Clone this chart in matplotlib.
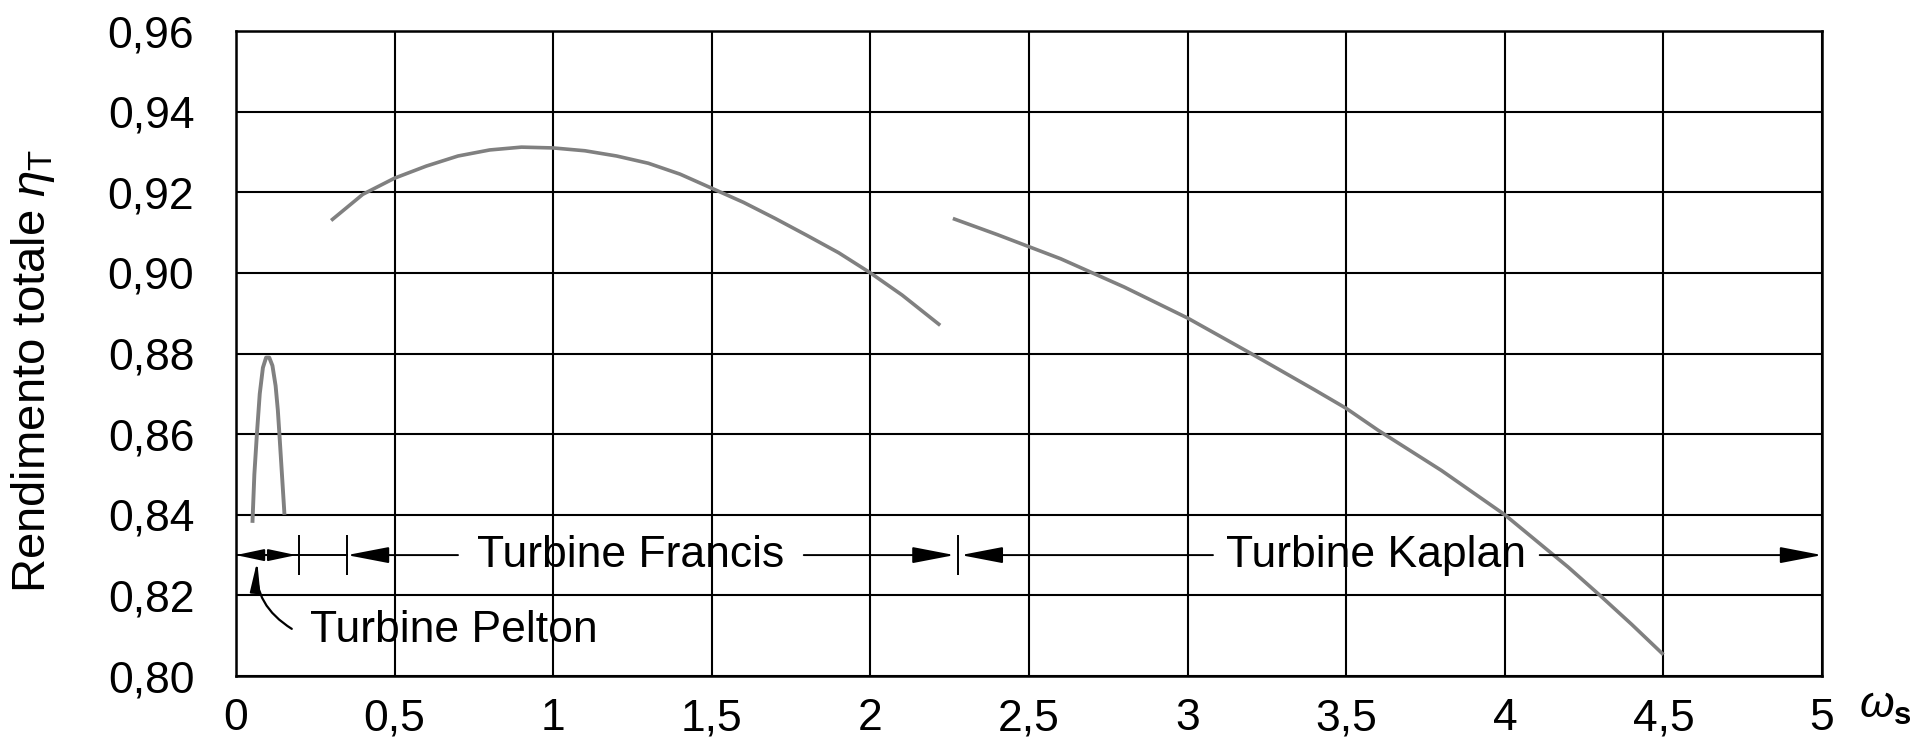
import matplotlib
matplotlib.use('Agg')
import matplotlib.pyplot as plt
from matplotlib.ticker import FuncFormatter

# ***************************** data *****************************
# efficiency curves
pelton_x = [0.052, 0.058, 0.066, 0.075, 0.085, 0.095, 0.105, 0.115, 0.125, 0.132, 0.137, 0.145, 0.153]
pelton_y = [0.838, 0.850, 0.860, 0.870, 0.8765, 0.879, 0.879, 0.877, 0.872, 0.866, 0.860, 0.850, 0.840]

francis_x = [0.3, 0.4, 0.5, 0.6, 0.7, 0.8, 0.9, 1.0, 1.1, 1.2, 1.3, 1.4, 1.5, 1.6, 1.7, 1.8, 1.9, 2.0, 2.1, 2.22]
francis_y = [0.913, 0.9195, 0.9235, 0.9265, 0.929, 0.9305, 0.9312, 0.931, 0.9303, 0.929, 0.9272, 0.9245,
             0.921, 0.9175, 0.9135, 0.9093, 0.905, 0.900, 0.8945, 0.887]

kaplan_x = [2.26, 2.4, 2.5, 2.6, 2.8, 3.0, 3.2, 3.4, 3.5, 3.6, 3.8, 4.0, 4.2, 4.3, 4.4, 4.5]
kaplan_y = [0.9135, 0.9095, 0.9065, 0.9035, 0.8965, 0.8888, 0.8800, 0.8710, 0.8664, 0.8610, 0.8510,
            0.8400, 0.8270, 0.8200, 0.8128, 0.8053]

x_ticks = [0, 0.5, 1, 1.5, 2, 2.5, 3, 3.5, 4, 4.5, 5]
y_ticks = [0.80, 0.82, 0.84, 0.86, 0.88, 0.90, 0.92, 0.94, 0.96]

# range markers (x positions) for the turbine types
range_y = 0.83
pelton_range = [0.0, 0.2]
francis_range = [0.35, 2.275]
kaplan_range = [2.275, 5.0]
labels = ['Turbine Pelton', 'Turbine Francis', 'Turbine Kaplan']

# ***************************** style *****************************
plt.rcParams['font.family'] = ['Liberation Sans', 'DejaVu Sans']
plt.rcParams['mathtext.fontset'] = 'custom'
plt.rcParams['mathtext.rm'] = 'Liberation Sans'
plt.rcParams['mathtext.it'] = 'Liberation Sans:italic'
plt.rcParams['mathtext.bf'] = 'Liberation Sans:bold'

FS = 32
curve_col = '#808080'

fig = plt.figure(figsize=(19.23, 7.46), dpi=100)
ax = fig.add_axes([0.1227, 0.0938, 0.8248, 0.8646])

ax.plot(pelton_x, pelton_y, color=curve_col, lw=2.8, solid_capstyle='butt')
ax.plot(francis_x, francis_y, color=curve_col, lw=2.6, solid_capstyle='butt')
ax.plot(kaplan_x, kaplan_y, color=curve_col, lw=2.6, solid_capstyle='butt')

ax.set_xlim(0, 5)
ax.set_ylim(0.80, 0.96)
ax.set_xticks(x_ticks)
ax.set_yticks(y_ticks)
ax.xaxis.set_major_formatter(FuncFormatter(lambda v, p: ('%g' % v).replace('.', ',')))
ax.yaxis.set_major_formatter(FuncFormatter(lambda v, p: ('%.2f' % v).replace('.', ',')))
ax.tick_params(axis='both', length=0, labelsize=FS)
ax.tick_params(axis='x', pad=16)
ax.tick_params(axis='y', pad=30)
ax.grid(True, color='black', lw=1.5)
ax.set_axisbelow(True)
for sp in ax.spines.values():
    sp.set_linewidth(1.8)

# axis titles
fig.text(0.0172, 0.5027, r'Rendimento totale $\eta_\mathrm{T}$', rotation=90,
         ha='center', va='center', fontsize=34)
ax.text(1.0397, -0.048, r'$\omega_\mathbf{s}$', transform=ax.transAxes,
        ha='center', va='center', fontsize=FS)

# ***************************** range arrows *****************************
head = dict(mutation_scale=20, lw=1.4, color='black', shrinkA=0, shrinkB=0)
small = dict(arrowstyle='-|>,head_length=0.85,head_width=0.18', **head)
one = dict(arrowstyle='-|>,head_length=1.3,head_width=0.25', **head)
plain = dict(color='black', lw=1.4)

# pelton range, arrows at both ends
ax.plot([pelton_range[0], francis_range[0]], [range_y, range_y], **plain)
ax.annotate('', xy=(pelton_range[0], range_y), xytext=(0.1, range_y), arrowprops=small)
ax.annotate('', xy=(pelton_range[1] - 0.01, range_y), xytext=(0.1, range_y), arrowprops=small)

# francis range
f_txt_l, f_txt_r = 0.70, 1.79
ax.annotate('', xy=(francis_range[0], range_y), xytext=(f_txt_l, range_y), arrowprops=one)
ax.annotate('', xy=(francis_range[1] - 0.01, range_y), xytext=(f_txt_r, range_y), arrowprops=one)
ax.text((f_txt_l + f_txt_r) / 2, range_y, labels[1], ha='center', va='center', fontsize=FS)

# kaplan range
k_txt_l, k_txt_r = 3.08, 4.11
ax.annotate('', xy=(kaplan_range[0] + 0.01, range_y), xytext=(k_txt_l, range_y), arrowprops=one)
ax.annotate('', xy=(kaplan_range[1], range_y), xytext=(k_txt_r, range_y), arrowprops=one,
            annotation_clip=False)
ax.text((k_txt_l + k_txt_r) / 2, range_y, labels[2], ha='center', va='center', fontsize=FS)

# small vertical ticks at range limits
ax.vlines([pelton_range[1], francis_range[0], francis_range[1]], range_y - 0.005, range_y + 0.005,
          color='black', lw=1.4)

# pelton label with curved arrow
ax.text(0.233, 0.8112, labels[0], fontsize=FS, va='center', ha='left')
ax.annotate('', xy=(0.067, 0.8285), xytext=(0.176, 0.8117),
            arrowprops=dict(arrowstyle='-|>,head_length=0.9,head_width=0.15', mutation_scale=20, lw=1.6,
                            color='black', shrinkA=0, shrinkB=0, connectionstyle='arc3,rad=-0.3'))

fig.savefig('out.png', dpi=100)
